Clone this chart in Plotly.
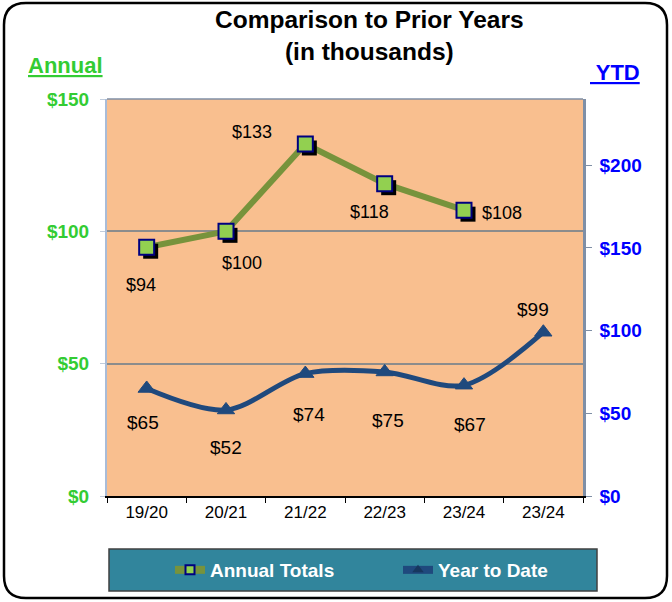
import plotly.graph_objects as go

categories = ["19/20", "20/21", "21/22", "22/23", "23/24", "23/24"]
annual_values = [94, 100, 133, 118, 108]
ytd_values = [65, 52, 74, 75, 67, 99]
left_ticks = [0, 50, 100, 150]
right_ticks = [0, 50, 100, 150, 200]

# label offsets (pixels) for data labels
annual_label_shift = [(-6, -38), (16, -32), (-53, 12), (-15, -28), (38, -3)]
ytd_label_shift = [(-4, -34), (0, -38), (4, -41), (3, -49), (6, -39), (-10, 23)]

W, H = 672, 602
L, R, T, B = 107, 89, 99, 106
PW, PH = W - L - R, H - T - B

xs = list(range(len(categories)))
xa = xs[:len(annual_values)]

FONT = "Liberation Sans, Arial, sans-serif"
GREEN_T = "#33CC33"
BLUE_T = "#0000FF"
OLIVE = "#77933C"
NAVY = "#1F497D"

def px(x):
    return (x - L) / PW

def py(y):
    return (H - B - y) / PH

fig = go.Figure()

# YTD line (right axis)
fig.add_trace(go.Scatter(
    x=xs, y=ytd_values, name="Year to Date", yaxis="y2",
    mode="lines+markers",
    line=dict(color=NAVY, width=5, shape="spline", smoothing=0.9),
    marker=dict(symbol="triangle-up", size=15, color=NAVY, line=dict(color=NAVY, width=1)),
    hoverinfo="skip", showlegend=False,
))

# Annual line
fig.add_trace(go.Scatter(
    x=xa, y=annual_values, name="Annual Totals",
    mode="lines",
    line=dict(color=OLIVE, width=6),
    showlegend=False, hoverinfo="skip",
))
# marker shadows (offset few pixels right/down)
dx = 4 / (PW / len(categories))
dy = 4 / (PH / 150)
fig.add_trace(go.Scatter(
    x=[v + dx for v in xa], y=[v - dy for v in annual_values],
    mode="markers",
    marker=dict(symbol="square", size=15, color="black"),
    showlegend=False, hoverinfo="skip",
))
fig.add_trace(go.Scatter(
    x=xa, y=annual_values, name="Annual Totals",
    mode="markers",
    marker=dict(symbol="square", size=15, color="#92D050", line=dict(color="#000080", width=2)),
    showlegend=False, hoverinfo="skip",
))
# legend entries
fig.add_trace(go.Scatter(
    x=[None], y=[None], name="Annual Totals", mode="lines+markers",
    line=dict(color=OLIVE, width=8),
    marker=dict(symbol="square", size=9, color="#92D050", line=dict(color="#000080", width=2)),
    legend="legend",
))
fig.add_trace(go.Scatter(
    x=[None], y=[None], name="Year to Date", mode="lines+markers", yaxis="y2",
    line=dict(color=NAVY, width=8),
    marker=dict(symbol="triangle-up", size=10, color="#17375E"),
    legend="legend2",
))

annotations = []
for i, v in enumerate(annual_values):
    sx, sy = annual_label_shift[i]
    annotations.append(dict(x=i, y=v, xref="x", yref="y", text=f"${v}", showarrow=False,
                            xshift=sx, yshift=sy, font=dict(family=FONT, size=18, color="black")))
for i, v in enumerate(ytd_values):
    sx, sy = ytd_label_shift[i]
    annotations.append(dict(x=i, y=v, xref="x", yref="y2", text=f"${v}", showarrow=False,
                            xshift=sx, yshift=sy, font=dict(family=FONT, size=19, color="black")))

annotations.append(dict(x=px(65), y=py(65), xref="paper", yref="paper", xanchor="center", yanchor="middle",
                        text="<b><u>Annual</u></b>", showarrow=False,
                        font=dict(family=FONT, size=22, color=GREEN_T)))
annotations.append(dict(x=px(615), y=py(72), xref="paper", yref="paper", xanchor="center", yanchor="middle",
                        text="<b><u> YTD</u></b>", showarrow=False,
                        font=dict(family=FONT, size=22, color=BLUE_T)))
annotations.append(dict(x=px(369), y=py(35), xref="paper", yref="paper", xanchor="center", yanchor="middle",
                        text="<b>Comparison to Prior Years<br>(in thousands)</b>", showarrow=False,
                        font=dict(family=FONT, size=24.5, color="black")))

# rounded outer border
x0, x1, y0, y1 = 4, 667, 3, 598
r = 22
path = (f"M {px(x0 + r)},{py(y0)} L {px(x1 - r)},{py(y0)} Q {px(x1)},{py(y0)} {px(x1)},{py(y0 + r)} "
        f"L {px(x1)},{py(y1 - r)} Q {px(x1)},{py(y1)} {px(x1 - r)},{py(y1)} "
        f"L {px(x0 + r)},{py(y1)} Q {px(x0)},{py(y1)} {px(x0)},{py(y1 - r)} "
        f"L {px(x0)},{py(y0 + r)} Q {px(x0)},{py(y0)} {px(x0 + r)},{py(y0)} Z")
shapes = [
    dict(type="path", path=path, xref="paper", yref="paper", line=dict(color="black", width=2.5), layer="below"),
    dict(type="rect", xref="paper", yref="paper", x0=px(109), x1=px(597), y0=py(591), y1=py(549),
         fillcolor="#31859C", line=dict(color="#404040", width=1.5), layer="below"),
    dict(type="line", xref="paper", yref="paper", x0=0, x1=1, y0=1, y1=1, line=dict(color="#7F8FA6", width=1.5)),
]

legend_common = dict(orientation="h", yanchor="middle", y=py(570), xanchor="left",
                     bgcolor="rgba(0,0,0,0)", borderwidth=0,
                     font=dict(family=FONT, size=19, color="white", weight="bold"))

n = len(categories)
fig.update_layout(
    width=W, height=H,
    margin=dict(l=L, r=R, t=T, b=B),
    paper_bgcolor="white",
    plot_bgcolor="#F9BF8F",
    font=dict(family=FONT),
    xaxis=dict(range=[-0.5, n - 0.5], tickvals=xs, ticktext=categories, ticks="",
               showgrid=False, zeroline=False, showline=True, linecolor="black", linewidth=1.5,
               tickfont=dict(family=FONT, size=17, color="black")),
    xaxis2=dict(range=[-0.5, n - 0.5], overlaying="x", anchor="y",
                tickvals=[i - 0.5 for i in range(n + 1)], ticktext=[""] * (n + 1),
                ticks="outside", ticklen=6, tickcolor="black", tickwidth=1.2,
                showgrid=False, zeroline=False, showline=False),
    yaxis=dict(range=[0, 150], tickvals=left_ticks, ticktext=[f"${v}" for v in left_ticks],
               showgrid=True, gridcolor="#8C8C8C", gridwidth=1.5, zeroline=False,
               showline=True, linecolor="#A9BCD8", linewidth=2,
               ticks="outside", ticklen=5, tickcolor="#C0CCDC", ticklabelstandoff=7,
               tickfont=dict(family=FONT, size=19, color=GREEN_T, weight="bold")),
    yaxis2=dict(range=[0, 240], tickvals=right_ticks, ticktext=[f"${v}" for v in right_ticks],
                overlaying="y", side="right", showgrid=False, zeroline=False,
                showline=True, linecolor="#7F8FA6", linewidth=2.5,
                ticks="outside", ticklen=6, tickcolor="#7F8FA6", ticklabelstandoff=4,
                tickfont=dict(family=FONT, size=19, color=BLUE_T, weight="bold")),
    legend=dict(x=px(170), **legend_common),
    legend2=dict(x=px(398), **legend_common),
    annotations=annotations,
    shapes=shapes,
    showlegend=True,
)
fig.add_trace(go.Scatter(x=[None], y=[None], xaxis="x2", showlegend=False, hoverinfo="skip"))

fig.write_html("out.html", post_script="document.body.style.margin='0';",
               config={"displayModeBar": False})
